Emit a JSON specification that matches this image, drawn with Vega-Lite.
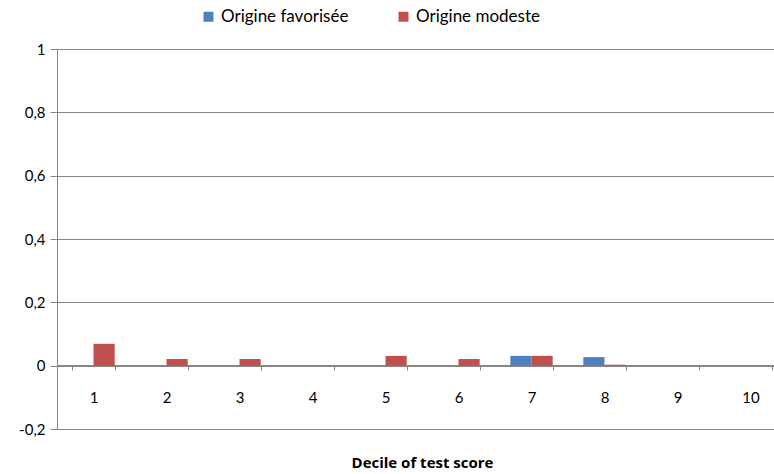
{
  "$schema": "https://vega.github.io/schema/vega-lite/v6.json",
  "autosize": "none",
  "width": 730,
  "height": 380,
  "padding": {"left": 57, "top": 49, "right": 0, "bottom": 45},
  "background": "white",
  "config": {
    "view": {"stroke": null},
    "font": "Lato"
  },
  "data": {
    "values": [
      {"decile": "1", "origine": "Origine favorisée", "value": 0},
      {"decile": "1", "origine": "Origine modeste", "value": 0.069},
      {"decile": "2", "origine": "Origine favorisée", "value": 0},
      {"decile": "2", "origine": "Origine modeste", "value": 0.021},
      {"decile": "3", "origine": "Origine favorisée", "value": 0},
      {"decile": "3", "origine": "Origine modeste", "value": 0.021},
      {"decile": "4", "origine": "Origine favorisée", "value": 0},
      {"decile": "4", "origine": "Origine modeste", "value": 0},
      {"decile": "5", "origine": "Origine favorisée", "value": 0},
      {"decile": "5", "origine": "Origine modeste", "value": 0.031},
      {"decile": "6", "origine": "Origine favorisée", "value": 0},
      {"decile": "6", "origine": "Origine modeste", "value": 0.021},
      {"decile": "7", "origine": "Origine favorisée", "value": 0.031},
      {"decile": "7", "origine": "Origine modeste", "value": 0.031},
      {"decile": "8", "origine": "Origine favorisée", "value": 0.027},
      {"decile": "8", "origine": "Origine modeste", "value": 0.003},
      {"decile": "9", "origine": "Origine favorisée", "value": 0},
      {"decile": "9", "origine": "Origine modeste", "value": 0},
      {"decile": "10", "origine": "Origine favorisée", "value": 0},
      {"decile": "10", "origine": "Origine modeste", "value": 0}
    ]
  },
  "mark": {"type": "bar"},
  "encoding": {
    "x": {
      "field": "decile",
      "type": "ordinal",
      "sort": ["1","2","3","4","5","6","7","8","9","10"],
      "scale": {"paddingInner": 0.42, "paddingOuter": 0.21},
      "axis": {
        "title": "Decile of test score",
        "titleFont": "Open Sans",
        "titleFontSize": 15,
        "titleFontWeight": "bold",
        "titleColor": "#000000",
        "titleY": 97,
        "titleBaseline": "middle",
        "offset": -64,
        "labelAngle": 0,
        "labelFontSize": 15,
        "labelColor": "#000000",
        "labelPadding": 20,
        "tickBand": "extent",
        "tickSize": 5,
        "tickColor": "#868686",
        "domainColor": "#868686",
        "grid": false
      }
    },
    "xOffset": {
      "field": "origine",
      "type": "nominal",
      "sort": ["Origine favorisée", "Origine modeste"],
      "scale": {"paddingInner": 0}
    },
    "y": {
      "field": "value",
      "type": "quantitative",
      "scale": {"domain": [-0.2, 1], "nice": false, "zero": false},
      "axis": {
        "title": null,
        "values": [-0.2, 0, 0.2, 0.4, 0.6, 0.8, 1],
        "labelExpr": "replace(replace(format(datum.value, '.1~f'), '.', ','), '−', '-')",
        "labelFontSize": 15,
        "labelColor": "#000000",
        "labelPadding": 5,
        "tickSize": 7,
        "tickColor": "#868686",
        "domainColor": "#868686",
        "gridColor": "#868686",
        "gridOpacity": 1
      }
    },
    "color": {
      "field": "origine",
      "type": "nominal",
      "sort": ["Origine favorisée", "Origine modeste"],
      "scale": {"domain": ["Origine favorisée", "Origine modeste"], "range": ["#4F81BD", "#C0504D"]},
      "legend": {
        "title": null,
        "orient": "none",
        "direction": "horizontal",
        "legendX": 143,
        "legendY": -41,
        "symbolType": "square",
        "symbolSize": 100,
        "symbolStrokeWidth": 0,
        "labelFontSize": 17,
        "labelColor": "#000000",
        "columnPadding": 46
      }
    }
  }
}
